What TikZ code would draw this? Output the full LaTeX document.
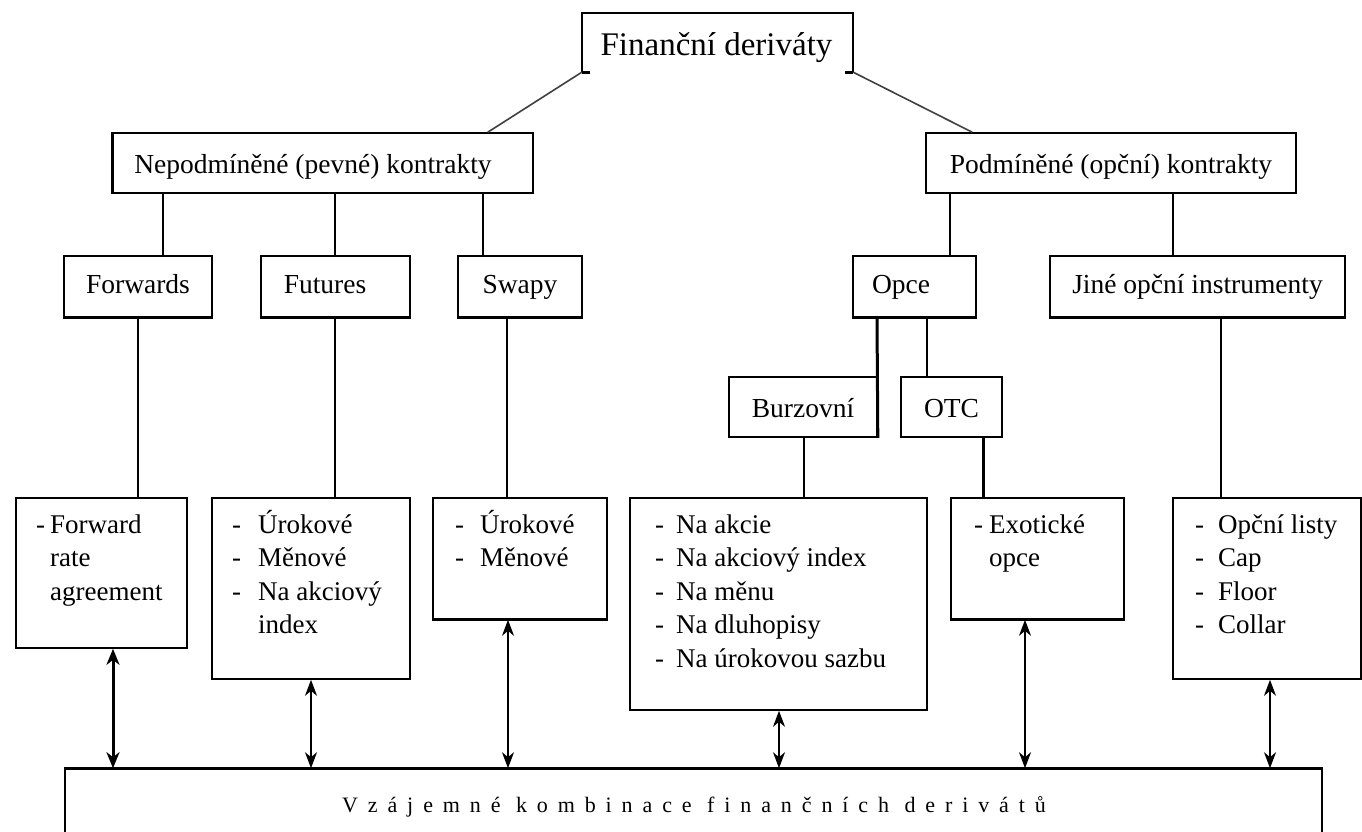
\documentclass[tikz,border=0pt]{standalone}
\usepackage{fontspec}
\setmainfont{Liberation Serif}
\usetikzlibrary{arrows.meta}
\newcommand{\mylist}[2]{\begin{tabular}[t]{@{}l@{\hspace{#1}}l@{}}#2\end{tabular}}
\begin{document}
\begin{tikzpicture}[x=1pt,y=-1pt,
  box/.style={draw, line width=1.6pt, rectangle, inner sep=0pt},
  lbl/.style={inner sep=0pt, font=\fontsize{27.5}{33.5}\selectfont, text height=19pt, text depth=6pt},
  lblb/.style={inner sep=0pt, font=\fontsize{27.5}{33.5}\selectfont, text height=22pt, text depth=1pt},
  lst/.style={inner sep=0pt, anchor=base west, font=\fontsize{27}{33.5}\selectfont},
  conn/.style={line width=1.6pt},
  thickconn/.style={line width=3pt},
  dbl/.style={line width=1.6pt, {Stealth[length=16pt,width=12pt,inset=5pt]}-{Stealth[length=16pt,width=12pt,inset=5pt]}},
  dblthick/.style={line width=3pt, {Stealth[length=16pt,width=13pt,inset=5pt]}-{Stealth[length=16pt,width=13pt,inset=5pt]}},
  ]
\clip (0,0) rectangle (1362,831);
\fill[white] (0,0) rectangle (1362,831);

% top
\node[inner sep=0pt, minimum width=271, minimum height=59] (top) at (717.5,42.5) {};
\node[inner sep=0pt, font=\fontsize{33}{40}\selectfont, text height=25pt, text depth=0pt] (top-t) at (716.5,42.5) {Finanční deriváty};
\draw[line width=1.6pt] (top.south west) -- (top.north west) -- (top.north east) -- (top.south east);
\draw[line width=3pt] (top.south west) -- ++(8,0);
\draw[line width=3pt] (top.south east) -- ++(-8,0);

% level 1
\node[box, lblb, minimum width=420, minimum height=60] (nep) at (323,163) {};
\node[lblb] (nep-t) at (313,163) {Nepodmíněné (pevné) kontrakty};
\node[box, lblb, minimum width=370, minimum height=60] (pod) at (1111,163) {Podmíněné (opční) kontrakty};

% level 2
\node[box, lbl, minimum width=148, minimum height=61] (fwd) at (138,286.5) {Forwards};
\node[box, minimum width=149, minimum height=61] (fut) at (335.5,286.5) {};
\node[lbl] (fut-t) at (325,286.5) {Futures};
\node[box, lbl, minimum width=124, minimum height=61] (swp) at (520,286.5) {Swapy};
\node[box, minimum width=123, minimum height=61] (opc) at (914.5,286.5) {};
\node[lbl] (opc-t) at (901,286.5) {Opce};
\node[box, lbl, minimum width=295, minimum height=61] (jin) at (1197.5,286.5) {Jiné opční instrumenty};

% level 3
\node[box, lblb, minimum width=148, minimum height=60] (bur) at (803,407) {Burzovní};
\node[box, lblb, minimum width=101, minimum height=60] (otc) at (951.5,407) {OTC};

% lists
\node[box, minimum width=171, minimum height=150] (fwl) at (101.5,573) {};
\node[lst] (fwl-t) at (36,533) {\mylist{5pt}{-&Forward\\&rate\\&agreement}};
\node[box, minimum width=198, minimum height=181] (ful) at (311,588.5) {};
\node[lst] (ful-t) at (232,533) {\mylist{17pt}{-&Úrokové\\-&Měnové\\-&Na akciový\\&index}};
\node[box, minimum width=174, minimum height=121] (swl) at (520,558.5) {};
\node[lst] (swl-t) at (455,533) {\mylist{16pt}{-&Úrokové\\-&Měnové}};
\node[box, minimum width=297, minimum height=212] (nal) at (778.5,604) {};
\node[lst] (nal-t) at (655,533) {\mylist{12pt}{-&Na akcie\\-&Na akciový index\\-&Na měnu\\-&Na dluhopisy\\-&Na úrokovou sazbu}};
\node[box, minimum width=173, minimum height=121] (exl) at (1037.5,558.5) {};
\node[lst] (exl-t) at (974,533) {\mylist{6pt}{-&Exotické\\&opce}};
\node[box, minimum width=188, minimum height=181] (jil) at (1267,588.5) {};
\node[lst] (jil-t) at (1195,533) {\mylist{14pt}{-&Opční listy\\-&Cap\\-&Floor\\-&Collar}};

% bottom
\node[box, minimum width=1257, minimum height=81] (bot) at (693.5,809.5) {};
\node[inner sep=0pt, anchor=base, font=\fontsize{22}{24}\selectfont\addfontfeature{LetterSpace=45}] (bot-t) at (694,812) {Vzájemné kombinace finančních derivátů};

% thick edges
\foreach \n in {fwd,fut,swp,opc,jin,swl,exl}
  \draw[line width=3pt] (\n.south west) -- (\n.south east);
\draw[line width=2.8pt] (bot.north west) -- (bot.north east);
\draw[line width=2.8pt] (nep.north west) -- (nep.south west);

% coordinates
\coordinate (x1) at (163,0);
\coordinate (x2) at (335,0);
\coordinate (x3) at (483,0);
\coordinate (x4) at (950,0);
\coordinate (x5) at (1173,0);
\coordinate (x6) at (877,0);
\coordinate (x7) at (927,0);
\coordinate (x8) at (804,0);
\coordinate (x9) at (983,0);
\coordinate (x10) at (1221,0);
\coordinate (x11) at (507,0);
\coordinate (a1) at (113,0);
\coordinate (a2) at (311,0);
\coordinate (a3) at (508,0);
\coordinate (a4) at (779,0);
\coordinate (a5) at (1025,0);
\coordinate (a6) at (1270,0);

% connectors
\draw[conn, black!75] (top.south west) -- ([xshift=-46pt]nep.north east);
\draw[conn, black!75] (top.south east) -- ([xshift=47pt]pod.north west);
\draw[conn] (nep.south -| x1) -- (fwd.north -| x1);
\draw[conn] (nep.south -| x2) -- (fut.north -| x2);
\draw[conn] (nep.south -| x3) -- (swp.north -| x3);
\draw[conn] (pod.south -| x4) -- (opc.north -| x4);
\draw[conn] (pod.south -| x5) -- (jin.north -| x5);
\draw[conn] (fwd.south) -- (fwl.north -| fwd.south);
\draw[conn] (fut.south -| x2) -- (ful.north -| x2);
\draw[conn] (swp.south -| x11) -- (swl.north -| x11);
\draw[thickconn] (opc.south -| x6) -- (bur.south east);
\draw[conn] (opc.south -| x7) -- (otc.north -| x7);
\draw[conn] (bur.south -| x8) -- (nal.north -| x8);
\draw[thickconn] (otc.south -| x9) -- (exl.north -| x9);
\draw[conn] (jin.south -| x10) -- (jil.north -| x10);

% arrows
\draw[dblthick] (fwl.south -| a1) -- (bot.north -| a1);
\draw[dbl] (ful.south -| a2) -- (bot.north -| a2);
\draw[dbl] (swl.south -| a3) -- (bot.north -| a3);
\draw[dbl] (nal.south -| a4) -- (bot.north -| a4);
\draw[dbl] (exl.south -| a5) -- (bot.north -| a5);
\draw[dbl] (jil.south -| a6) -- (bot.north -| a6);
\end{tikzpicture}
\end{document}
